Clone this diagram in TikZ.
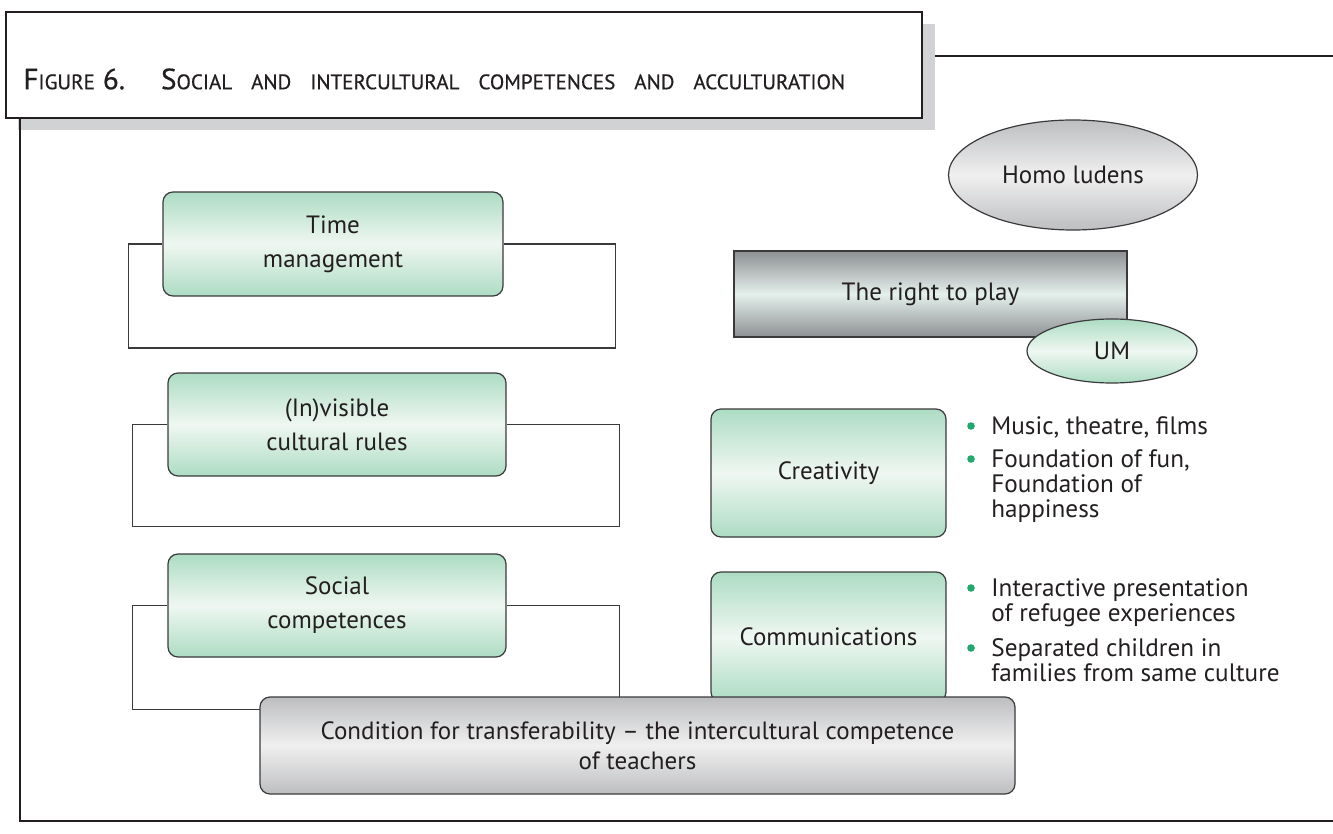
\documentclass[tikz,border=0pt]{standalone}
\usepackage{fontspec}
\setmainfont{PT Sans}
\newfontfamily\titlefont[FakeBold=0.6]{PT Sans}
\usetikzlibrary{shapes.geometric,backgrounds}

\definecolor{mint}{HTML}{ADDCC3}
\definecolor{mintlight}{HTML}{EFF7F2}
\definecolor{greydark}{HTML}{8E9094}
\definecolor{greymid}{HTML}{BDBEC0}
\definecolor{greylight}{HTML}{F0F0F1}
\definecolor{greyplay}{HTML}{E4F0EB}
\definecolor{shadowgrey}{HTML}{D1D2D4}
\definecolor{dotgreen}{HTML}{22A86E}
\definecolor{ink}{HTML}{231F20}
\definecolor{edge}{HTML}{3A3A3C}

\newcommand{\capbig}[1]{{\fontsize{14.6}{14.6}\selectfont #1}}
\newcommand{\capsmall}[1]{{\fontsize{10.5}{10.5}\selectfont #1}}
\newcommand{\capgap}{\hspace{9.5pt}}

\begin{document}
\begin{tikzpicture}[
    x = 0.5pt,
    y = -0.5pt,
    font = \fontsize{12.5}{17}\selectfont,
    text = ink,
    greenbox/.style = {draw=edge, line width=0.6pt, rounded corners=5pt,
              top color=mint, bottom color=mint, middle color=mintlight,
              minimum width=170pt, minimum height=52pt, align=center,
              inner sep=0pt},
    greenoval/.style = {ellipse, draw=edge, line width=0.6pt,
              top color=mint, bottom color=mint, middle color=mintlight,
              inner sep=0pt},
    greyoval/.style = {ellipse, draw=edge, line width=0.6pt,
              top color=greymid, bottom color=greymid, middle color=greylight,
              inner sep=0pt},
    bracket/.style = {draw=edge, line width=0.7pt},
    frame/.style = {draw=ink, line width=0.8pt},
    dot/.style = {circle, fill=dotgreen, minimum size=3.8pt, inner sep=0pt},
    bullettext/.style = {anchor=north west, align=left, inner sep=0pt,
              font=\fontsize{12.6}{12.5}\selectfont},
    ]

\useasboundingbox (0,0) rectangle (1333,834);

% title panel
\node[fill=shadowgrey, minimum width=458.5pt, minimum height=53pt,
      inner sep=0pt] (title_shadow) at (476.5,77) {};
\node[draw=ink, fill=white, line width=1pt, minimum width=458pt,
      minimum height=53pt, inner sep=0pt] (title_box) at (464,65) {};
\node[anchor=west, inner sep=0pt, font=\titlefont, text=ink] (title) at (23,79)
    {\capbig{F}\capsmall{IGURE}\hspace{4pt}\capbig{6.}\hspace{18pt}%
     \capbig{S}\capsmall{OCIAL}\capgap\capsmall{AND}\capgap%
     \capsmall{INTERCULTURAL}\capgap\capsmall{COMPETENCES}\capgap%
     \capsmall{AND}\capgap\capsmall{ACCULTURATION}};

\draw[frame] (title_box.south west -| 20,0) -- (20,821) -- (1333,821);
\draw[frame] (title_shadow.east |- 0,56) -- (1333,56);

% left column
\node[greenbox] (box_time) at (333,244) {Time\\management};
\node[greenbox, minimum width=169pt, minimum height=51.5pt] (box_rules)
    at (337,424.5) {(In)visible\\cultural rules};
\node[greenbox, minimum width=169pt, minimum height=51.5pt] (box_social)
    at (337,605.5) {Social\\competences};

\begin{pgfonlayer}{background}
\draw[bracket] (box_time.west) -| ++(-34,104) -| ++(487,-104) -- (box_time.east);
\draw[bracket] (box_rules.west) -| ++(-35,102) -| ++(487,-102) -- (box_rules.east);
\draw[bracket] (box_social.west) -| ++(-35,104) -| ++(487,-104) -- (box_social.east);
\end{pgfonlayer}

% right column
\node[greyoval, minimum width=124.5pt, minimum height=55pt] (homo)
    at (1073,175) {Homo ludens};
\node[draw=edge, line width=0.6pt, top color=greydark, bottom color=greydark,
      middle color=greyplay, minimum width=196.5pt, minimum height=43pt,
      inner sep=0pt] (play) at (930.5,294) {The right to play};
\node[greenoval, minimum width=85pt, minimum height=32pt] (um)
    at (1112,351) {UM};

\node[greenbox, minimum width=117.5pt, minimum height=64pt] (box_creativity)
    at (828.5,473) {Creativity};
\node[greenbox, minimum width=117.5pt, minimum height=65pt] (box_comm)
    at (828.5,637) {Communications};

\node[dot] (dot_1) at (971,426) {};
\node[bullettext] (item_1) at (991,416) {Music, theatre, films};
\node[dot] (dot_2) at (971,459) {};
\node[bullettext] (item_2) at (991,449) {Foundation of fun,\\Foundation of\\happiness};
\node[dot] (dot_3) at (971,588) {};
\node[bullettext] (item_3) at (991,578) {Interactive presentation\\of refugee experiences};
\node[dot] (dot_4) at (971,648) {};
\node[bullettext] (item_4) at (991,638) {Separated children in\\families from same culture};

\node[draw=edge, line width=0.6pt, rounded corners=5pt, top color=greymid,
      bottom color=greymid, middle color=greylight, minimum width=377.5pt,
      minimum height=48.5pt, inner sep=0pt, align=center,
      font=\fontsize{12.5}{15}\selectfont] (condition)
    at (637.5,745.5) {Condition for transferability -- the intercultural competence\\of teachers};

\end{tikzpicture}
\end{document}
